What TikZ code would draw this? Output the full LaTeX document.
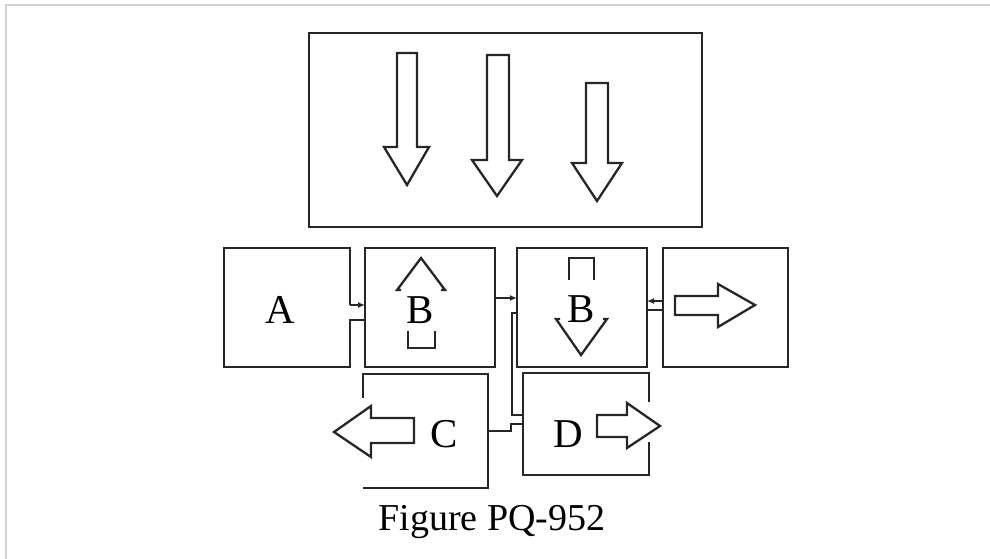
\documentclass[tikz,border=0pt]{standalone}
\usepackage{fontspec}
\setmainfont{Liberation Serif}
\usetikzlibrary{arrows.meta}
\tikzset{
  box/.style={line width=2.6pt, line join=miter, draw=black!85},
  blockarrow/.style={line width=2.3pt, line join=miter, draw=black!85},
  letter/.style={inner sep=0pt, anchor=base, font=\fontsize{41}{41}\selectfont},
  conn/.style={line width=2pt, draw=black!85},
  tip/.style={-{Latex[length=7pt,width=6pt]}},
}
\begin{document}
\begin{tikzpicture}[x=1pt,y=-1pt]
\useasboundingbox (0,0) rectangle (990,559);
\draw[gray!35, line width=1.5pt] (6,559) -- (6,5) -- (990,5);

% top box with three down arrows
\draw[box] (309,33) rectangle (702,227);
\draw[blockarrow] (397,53) -- (417,53) -- (417,147) -- (429,147) -- (407,185) -- (384,147) -- (397,147) -- cycle;
\draw[blockarrow] (487,55) -- (509,55) -- (509,160) -- (522,160) -- (497,196) -- (472,160) -- (487,160) -- cycle;
\draw[blockarrow] (586,83) -- (608,83) -- (608,163) -- (622,163) -- (597,201) -- (572,163) -- (586,163) -- cycle;

% coordinates
\coordinate (aout) at (350,305);
\coordinate (b1in) at (365,305);
\coordinate (b1out) at (495,298);
\coordinate (b2in) at (517,298);
\coordinate (b2low) at (517,313);
\coordinate (din) at (523,415);
\coordinate (cout) at (488,431);
\coordinate (din2) at (523,424);
\coordinate (rin) at (663,301);
\coordinate (b2out) at (647,301);

% box A
\draw[box] (365,320) -- (350,320) -- (350,367) -- (224,367) -- (224,248) -- (350,248) -- (aout);
\node[letter] (A) at (280,323) {A};
\draw[conn,tip] (aout) -- (b1in);

% box B1
\draw[box] (365,248) rectangle (495,367);
\node[letter] (B1) at (420,323) {B};
\draw[blockarrow] (401,290) -- (397,290) -- (421,258) -- (445,290) -- (441,290);
\draw[blockarrow] (408,331) -- (408,348) -- (435,348) -- (435,331);
\draw[conn,tip] (b1out) -- (b2in);

% box B2
\draw[box] (517,248) rectangle (647,367);
\node[letter] (B2) at (581,322) {B};
\draw[blockarrow] (569,280) -- (569,258) -- (594,258) -- (594,280);
\draw[blockarrow] (560,319) -- (556,319) -- (581,355) -- (607,319) -- (603,319);
\draw[conn] (b2low) -- (512,313) -- (512,415) -- (din);

% right box
\draw[box] (663,248) rectangle (788,367);
\draw[blockarrow] (675,296) -- (718,296) -- (718,284) -- (755,305) -- (718,327) -- (718,315) -- (675,315) -- cycle;
\draw[conn,tip] (rin) -- (b2out);
\draw[conn] (647,310) -- (663,310);

% box C
\draw[box] (363,398) -- (363,374) -- (488,374) -- (488,488) -- (363,488);
\draw[blockarrow] (414,418) -- (371,418) -- (371,406) -- (334,432) -- (371,457) -- (371,443) -- (414,443) -- cycle;
\node[letter] (C) at (444,447) {C};
\draw[conn] (cout) -- (511,431) -- (511,424) -- (din2);

% box D
\draw[box] (649,402) -- (649,373) -- (523,373) -- (523,475) -- (649,475) -- (649,442);
\draw[blockarrow] (597,415) -- (627,415) -- (627,403) -- (660,426) -- (627,448) -- (627,437) -- (597,437) -- cycle;
\node[letter] (D) at (568,447) {D};

% caption
\node[inner sep=0pt, anchor=base, font=\fontsize{38}{38}\selectfont] (cap) at (492,530) {Figure PQ-952};
\end{tikzpicture}
\end{document}
